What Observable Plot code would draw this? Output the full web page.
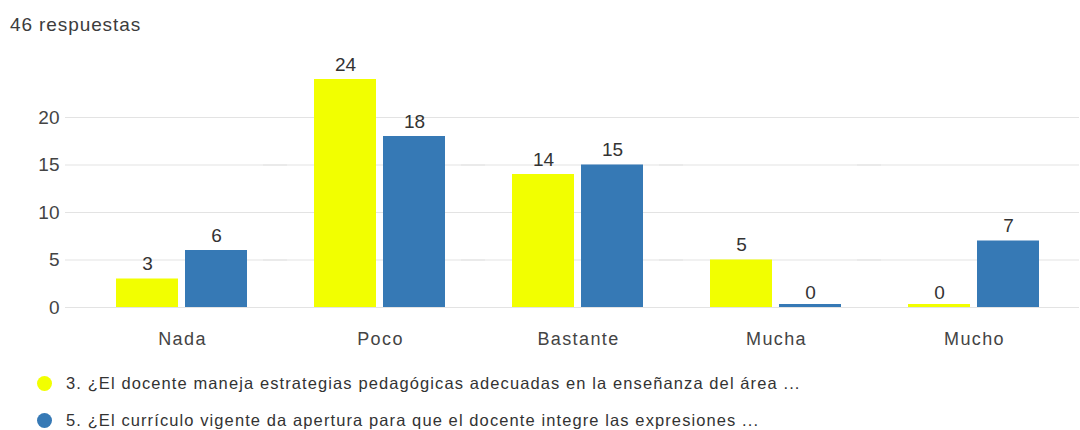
<!DOCTYPE html>
<html>
<head>
<meta charset="utf-8">
<script src="https://cdn.jsdelivr.net/npm/d3@7"></script>
<script src="https://cdn.jsdelivr.net/npm/@observablehq/plot@0.6"></script>
<style>
  html, body { margin: 0; padding: 0; background: #fff; width: 1080px; height: 430px; overflow: hidden; }
  body { position: relative; font-family: "Liberation Sans", Arial, sans-serif; }
  #title { position: absolute; left: 10px; top: 14px; font-size: 19px; letter-spacing: 0.9px; color: #3c3c3c; }
  #chart { position: absolute; left: 0; top: 40px; }
  #chart [aria-label="fx-axis tick label"] { letter-spacing: 1.4px; }
  #legend { position: absolute; left: 37px; top: 372px; font-size: 16.5px; letter-spacing: 1.1px; color: #333; }
  .item { display: flex; align-items: center; height: 23px; margin-bottom: 14px; white-space: nowrap; }
  .dot { width: 15px; height: 15px; border-radius: 50%; margin-right: 14px; flex: none; }
</style>
</head>
<body>
<div id="title">46 respuestas</div>
<div id="chart"></div>
<div id="legend"></div>
<script>
const categories = ["Nada", "Poco", "Bastante", "Mucha", "Mucho"];
const seriesNames = [
  "3. ¿El docente maneja estrategias pedagógicas adecuadas en la enseñanza del área ...",
  "5. ¿El currículo vigente da apertura para que el docente integre las expresiones ..."
];
const valuesA = [3, 24, 14, 5, 0];
const valuesB = [6, 18, 15, 0, 7];
const yTicks = [0, 5, 10, 15, 20];
const colors = ["#f2ff00", "#3679b5"];

const seriesValues = [valuesA, valuesB];
const data = [];
categories.forEach((c, i) => {
  seriesNames.forEach((s, j) => data.push({category: c, series: s, value: seriesValues[j][i]}));
});

const chart = Plot.plot({
  width: 1080,
  height: 320,
  marginLeft: 81,
  marginRight: 6,
  marginTop: 29.5,
  marginBottom: 53,
  style: {fontFamily: "Liberation Sans, Arial, sans-serif", fontSize: "18px", color: "#444", background: "transparent"},
  fx: {domain: categories, paddingInner: 0, paddingOuter: 0, label: null, axis: "bottom", tickSize: 0, tickPadding: 25},
  x: {domain: seriesNames, paddingInner: 0.1, paddingOuter: 0.468, axis: null},
  y: {domain: [0, 25], axis: null},
  color: {domain: seriesNames, range: colors},
  marks: [
    Plot.ruleY(yTicks, {stroke: "#e3e3e3", strokeWidth: 1, insetLeft: -18, insetRight: -6}),
    Plot.axisY({ticks: yTicks, tickSize: 0, tickPadding: 24, label: null, fontSize: 19, fill: "#444"}),
    Plot.barY(data, {fx: "category", x: "series", y: "value", fill: "series"}),
    Plot.barY(data.filter(d => d.value === 0), {fx: "category", x: "series", y: "value", fill: "series", insetTop: -3}),
    Plot.text(data, {fx: "category", x: "series", y: "value", text: d => String(d.value), lineAnchor: "bottom", dy: -9, fill: "#333", fontSize: 19})
  ]
});
document.getElementById("chart").appendChild(chart);

const legend = document.getElementById("legend");
seriesNames.forEach((s, i) => {
  const item = document.createElement("div");
  item.className = "item";
  const dot = document.createElement("span");
  dot.className = "dot";
  dot.style.background = colors[i];
  const label = document.createElement("span");
  label.textContent = s;
  item.appendChild(dot);
  item.appendChild(label);
  legend.appendChild(item);
});
</script>
</body>
</html>
